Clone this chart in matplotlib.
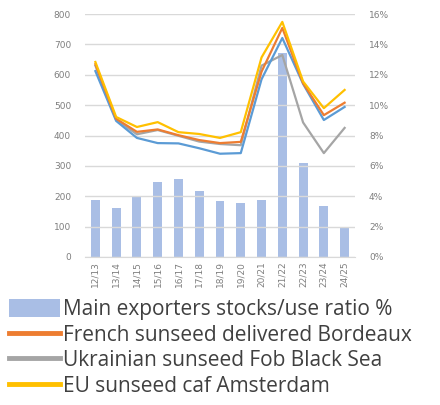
import matplotlib
matplotlib.use("Agg")
import matplotlib.pyplot as plt
from matplotlib.patches import Patch
from matplotlib.lines import Line2D
from matplotlib.ticker import FuncFormatter

categories = ["12/13", "13/14", "14/15", "15/16", "16/17", "17/18", "18/19",
              "19/20", "20/21", "21/22", "22/23", "23/24", "24/25"]
stocks_use_pct = [3.76, 3.22, 4.02, 4.94, 5.14, 4.34, 3.68, 3.56, 3.76, 13.44, 6.18, 3.36, 1.98]
blue_line = [612, 448, 392, 375, 374, 358, 340, 342, 585, 721, 570, 451, 494]
french_bordeaux = [635, 455, 412, 420, 401, 385, 375, 379, 610, 754, 572, 467, 508]
ukr_black_sea = [630, 452, 404, 418, 399, 380, 372, 368, 630, 665, 443, 342, 425]
eu_amsterdam = [642, 461, 428, 444, 411, 405, 392, 411, 657, 774, 578, 490, 550]

fig = plt.figure(figsize=(4.4, 4.05), dpi=100)
ax = fig.add_axes([85/440, 1-257/405, 270/440, 243/405])
ax2 = ax.twinx()

x = list(range(len(categories)))
ax2.bar(x, stocks_use_pct, width=0.43, color="#A9BEE5", zorder=1)
ax2.set_ylim(0, 16)
ax2.set_yticks(range(0, 17, 2))
ax2.yaxis.set_major_formatter(FuncFormatter(lambda v, p: f"{int(v)}%"))

lw = 1.6
ax.plot(x, ukr_black_sea, color="#A5A5A5", lw=lw, zorder=3)
ax.plot(x, blue_line, color="#5B9BD5", lw=lw, zorder=3)
ax.plot(x, french_bordeaux, color="#ED7D31", lw=lw, zorder=4)
ax.plot(x, eu_amsterdam, color="#FFC000", lw=lw, zorder=5)
ax.set_ylim(0, 800)
ax.set_yticks(range(0, 801, 100))
ax.set_xlim(-0.5, len(categories) - 0.5)
ax.set_xticks(x)
ax.set_xticklabels(categories, rotation=90)
ax.grid(axis="y", color="#D9D9D9", lw=1)
ax.set_axisbelow(True)
ax.set_zorder(ax2.get_zorder() + 1)
ax.patch.set_visible(False)

for a in (ax, ax2):
    for s in a.spines.values():
        s.set_visible(False)
    a.tick_params(length=0, labelsize=6.5, colors="#7F7F7F")
ax.spines["bottom"].set_visible(True)
ax.spines["bottom"].set_color("#D9D9D9")
ax.tick_params(axis="y", pad=10)
ax2.tick_params(axis="y", pad=10)
ax.tick_params(axis="x", pad=3)

handles = [Patch(facecolor="#A9BEE5"),
           Line2D([], [], color="#ED7D31", lw=3.5),
           Line2D([], [], color="#A5A5A5", lw=3.5),
           Line2D([], [], color="#FFC000", lw=3.5)]
labels = ["Main exporters stocks/use ratio %",
          "French sunseed delivered Bordeaux",
          "Ukrainian sunseed Fob Black Sea",
          "EU sunseed caf Amsterdam"]
fig.legend(handles, labels, loc="upper left", bbox_to_anchor=(0.015, 1-297/405),
           frameon=False, prop={"family": "Open Sans", "size": 15.0},
           handlelength=2.45, handleheight=0.9, handletextpad=0.15,
           labelspacing=0.22, borderaxespad=0, borderpad=0.1,
           labelcolor="#404040")

fig.savefig("out.png", dpi=100)
